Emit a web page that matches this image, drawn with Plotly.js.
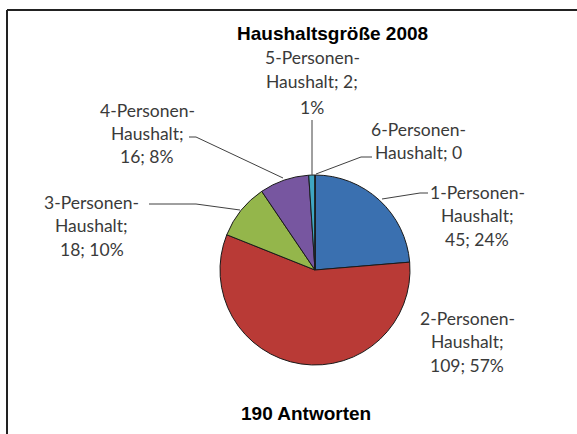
<!DOCTYPE html>
<html>
<head>
<meta charset="utf-8">
<script src="https://cdn.plot.ly/plotly-3.0.1.min.js"></script>
<style>html,body{margin:0;padding:0;background:#fff;}#chart{width:577px;height:434px;}</style>
</head>
<body>
<div id="chart"></div>
<script>
// ---- data ----
const categories = ['1-Personen-Haushalt', '2-Personen-Haushalt', '3-Personen-Haushalt', '4-Personen-Haushalt', '5-Personen-Haushalt', '6-Personen-Haushalt'];
const householdCounts = [45, 109, 18, 16, 2, 0];
const percentLabels = ['24%', '57%', '10%', '8%', '1%', ''];
const chartTitle = 'Haushaltsgröße 2008';
const footerText = '190 Antworten';
const sliceColors = ['#3A70B0', '#B93A36', '#94B64B', '#7756A0', '#3FA6C2', '#F79646'];

// ---- helpers ----
const W = 577, H = 434;
const px = x => x / W;
const py = y => 1 - y / H;

function labelLines(i) {
  const name = categories[i];
  const head = name.split('-Haushalt')[0] + '-';
  const v = householdCounts[i];
  const p = percentLabels[i];
  if (i === 4) return [head, 'Haushalt; ' + v + ';', p];
  if (i === 5) return [head, 'Haushalt; ' + v];
  return [head, 'Haushalt;', v + '; ' + p];
}

// label layout (center x, first-line y, line spacing) in pixels
const labelPos = [
  {x: 477, y: 192, dy: 23.5},
  {x: 467, y: 318, dy: 23.5},
  {x: 92,  y: 202, dy: 23.5},
  {x: 147, y: 110, dy: 23.5},
  {x: 312, y: 57,  dy: 25},
  {x: 418, y: 130, dy: 22.5}
];
// leader lines (pixel polylines)
const leaders = [
  [[428, 193], [420, 193], [382, 199]],
  [],
  [[149, 204], [196, 204], [240, 210]],
  [[189, 137], [196, 137], [283, 178]],
  [[312, 120], [312, 175]],
  [[372, 157], [361, 157], [316, 174]]
];

const annotations = [];
categories.forEach((c, i) => {
  const lines = labelLines(i);
  const pos = labelPos[i];
  lines.forEach((t, k) => {
    annotations.push({
      text: t, xref: 'paper', yref: 'paper',
      x: px(pos.x), y: py(pos.y + k * pos.dy),
      xanchor: 'center', yanchor: 'middle', showarrow: false,
      font: {family: 'Lato, "Open Sans", sans-serif', size: 17.5, color: '#3a3a3a'}
    });
  });
});
annotations.push({
  text: '<b>' + chartTitle + '</b>', xref: 'paper', yref: 'paper',
  x: px(332), y: py(33), xanchor: 'center', yanchor: 'middle', showarrow: false,
  font: {family: 'Liberation Sans, Arial, sans-serif', size: 19, color: '#000'}
});
annotations.push({
  text: '<b>' + footerText + '</b>', xref: 'paper', yref: 'paper',
  x: px(306), y: py(413), xanchor: 'center', yanchor: 'middle', showarrow: false,
  font: {family: 'Liberation Sans, Arial, sans-serif', size: 19, color: '#000'}
});

const shapes = [];
leaders.forEach(pl => {
  if (pl.length < 2) return;
  const path = pl.map((p, k) => (k ? 'L' : 'M') + px(p[0]) + ',' + py(p[1])).join(' ');
  shapes.push({type: 'path', xref: 'paper', yref: 'paper', path: path,
    line: {color: '#404040', width: 1}});
});
// chart frame (left & top visible)
shapes.push({type: 'line', xref: 'paper', yref: 'paper', x0: px(7), y0: py(10), x1: px(577), y1: py(10), line: {color: '#222', width: 2}});
shapes.push({type: 'line', xref: 'paper', yref: 'paper', x0: px(7), y0: py(10), x1: px(7), y1: py(434), line: {color: '#222', width: 2}});

const trace = {
  type: 'pie',
  labels: categories,
  values: householdCounts,
  sort: false,
  direction: 'clockwise',
  rotation: 0,
  textinfo: 'none',
  hoverinfo: 'skip',
  marker: {colors: sliceColors, line: {color: '#1a1a1a', width: 1}},
  domain: {x: [px(220), px(410)], y: [py(365), py(175)]},
  showlegend: false
};

const layout = {
  width: W, height: H,
  margin: {l: 0, r: 0, t: 0, b: 0},
  paper_bgcolor: '#fff',
  showlegend: false,
  annotations: annotations,
  shapes: shapes
};

Plotly.newPlot('chart', [trace], layout, {displayModeBar: false, staticPlot: true});
</script>
</body>
</html>
